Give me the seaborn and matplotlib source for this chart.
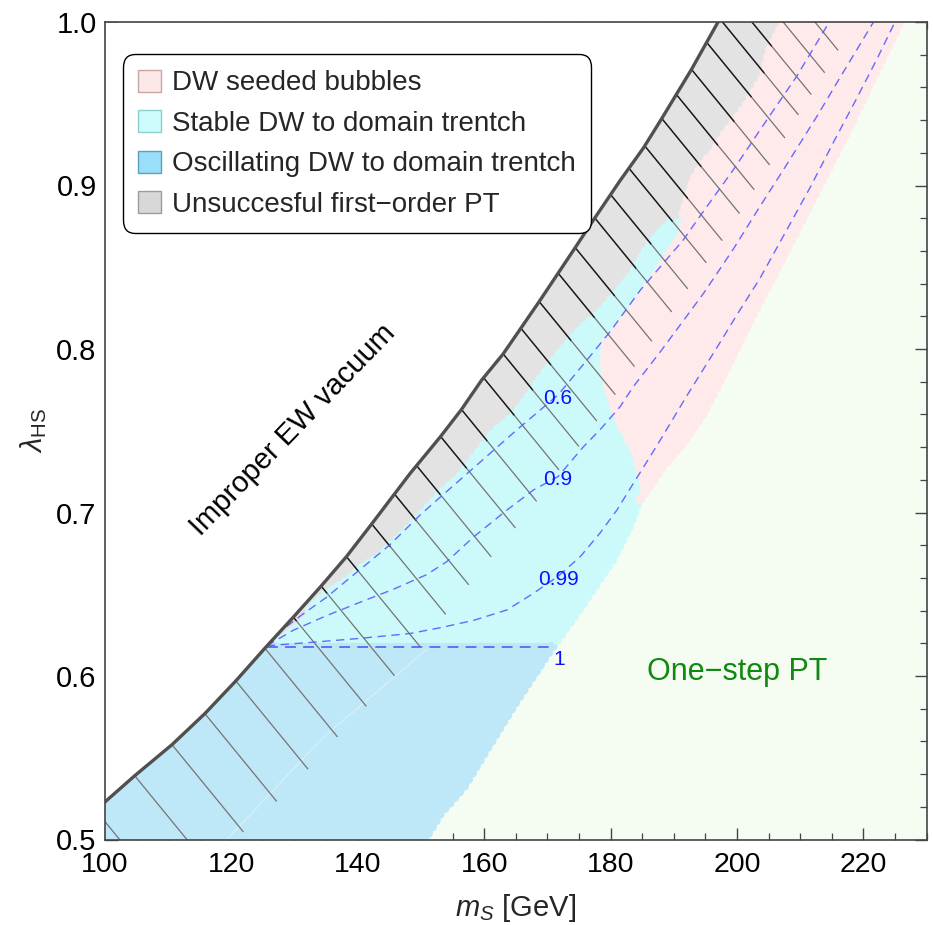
import numpy as np
import matplotlib
matplotlib.use("Agg")
import matplotlib.pyplot as plt
import seaborn as sns
from matplotlib.patches import Patch
from matplotlib.collections import LineCollection
from matplotlib.ticker import MultipleLocator, FormatStrFormatter

# ---------------- data ----------------
# boundary of the "improper EW vacuum" region (m_S, lambda_HS)
ewb_x = [97.0, 100.0, 104.7, 110.6, 115.8, 120.7, 125.3, 129.8, 134.2, 138.2, 142.2,
         148.3, 153.0, 156.4, 159.6, 163.0, 168.7, 174.4, 177.3, 181.5, 185.2, 188.1,
         192.8, 197.0, 200.5, 204.0, 207.0]
ewb_y = [0.513, 0.523, 0.539, 0.558, 0.577, 0.597, 0.617, 0.636, 0.655, 0.673, 0.693,
         0.724, 0.746, 0.763, 0.781, 0.797, 0.829, 0.862, 0.879, 0.903, 0.923, 0.941,
         0.971, 1.000, 1.022, 1.045, 1.065]

# hatch line start points (m_S on the boundary)
hatch_x = [98.5, 104.7, 110.6, 115.8, 120.7, 125.3, 129.8, 134.2, 138.2, 142.2, 145.8,
           149.3, 153.1, 156.4, 159.9, 163.0, 165.8, 168.7, 171.7, 174.4, 177.5, 180.0,
           182.9, 185.4, 188.1, 190.4, 192.8, 195.2, 197.3, 199.3, 201.4, 203.5]

# left edge of the one-step PT region
green_x = [150.5, 153.0, 156.7, 160.6, 165.1, 170.4, 175.4, 180.4, 183.0, 184.3, 186.5, 188.0,
           191.5, 194.7, 198.4, 202.6, 206.8, 210.5, 214.2, 217.9, 221.6, 225.8, 231.0]
green_y = [0.500, 0.516, 0.532, 0.557, 0.585, 0.616, 0.643, 0.672, 0.692, 0.706, 0.718, 0.727,
           0.743, 0.761, 0.789, 0.822, 0.853, 0.881, 0.909, 0.937, 0.967, 1.000, 1.040]

# edge between unsuccessful (grey) and stable DW (cyan)
grey_cyan_x = [125.5, 127.7, 132.4, 135.1, 138.2, 141.0, 143.5, 148.3, 153.0, 156.2, 158.8,
               161.4, 164.6, 166.5, 168.8, 171.5, 175.2, 178.3, 181.0, 183.6, 185.7, 187.8, 189.5]
grey_cyan_y = [0.6185, 0.6251, 0.6404, 0.6506, 0.6577, 0.667, 0.673, 0.691, 0.7107, 0.7219, 0.7352,
               0.7484, 0.7586, 0.768, 0.781, 0.795, 0.8116, 0.8218, 0.834, 0.8463, 0.8606, 0.8708, 0.877]

# edge between unsuccessful (grey) and DW seeded bubbles (pink)
grey_pink_x = [191.5, 193.1, 194.7, 196.3, 197.8, 199.4, 201.0, 202.6, 204.2, 205.2, 206.8, 207.3]
grey_pink_y = [0.883, 0.9034, 0.9136, 0.920, 0.930, 0.938, 0.946, 0.956, 0.9665, 0.983, 0.995, 1.000]

# edge between stable DW (cyan) and DW seeded bubbles (pink)
cyan_pink_x = [184.6, 184.1, 182.5, 180.6, 179.4, 178.2, 177.6, 177.8, 180.4, 183.1, 185.7, 188.3, 190.5]
cyan_pink_y = [0.708, 0.7138, 0.7362, 0.750, 0.7607, 0.775, 0.790, 0.8055, 0.8177, 0.832, 0.8463, 0.8626, 0.8748]

# top of the oscillating-DW region
osc_top = 0.6205

# faint light trace inside the oscillating region
faint_x = [119.3, 134.5, 150.9]
faint_y = [0.500, 0.5624, 0.6162]

# contours
c06_x = [125.6, 127.0, 131.0, 135.0, 140.0, 145.0, 150.0, 155.0, 160.0, 165.0, 171.7, 176.0,
         180.0, 184.7, 191.5, 194.1, 199.4, 204.7, 209.4, 214.6]
c06_y = [0.6185, 0.625, 0.637, 0.648, 0.664, 0.680, 0.699, 0.716, 0.733, 0.750, 0.772, 0.792,
         0.811, 0.836, 0.8667, 0.881, 0.9095, 0.940, 0.9665, 1.0]
c09_x = [125.6, 129.8, 135.1, 140.3, 145.6, 150.9, 154.1, 158.3, 163.6, 167.8, 171.7, 175.7,
         178.3, 181.5, 183.6, 188.0, 194.7, 199.4, 203.6, 207.9, 212.6, 216.3, 221.6]
c09_y = [0.6185, 0.628, 0.637, 0.645, 0.653, 0.662, 0.670, 0.685, 0.7015, 0.7138, 0.722, 0.7402,
         0.7505, 0.7647, 0.777, 0.799, 0.834, 0.861, 0.887, 0.913, 0.942, 0.966, 1.0]
c099_x = [125.6, 132.4, 140.3, 148.3, 153.0, 158.3, 163.6, 167.8, 171.7, 175.2, 178.3, 181.0,
          183.6, 187.5, 192.0, 197.0, 200.0, 203.6, 207.9, 211.6, 215.2, 218.9, 222.1, 225.0]
c099_y = [0.6185, 0.6205, 0.623, 0.626, 0.6295, 0.634, 0.6404, 0.6506, 0.661, 0.673, 0.6873, 0.7015,
          0.7178, 0.742, 0.771, 0.802, 0.821, 0.843, 0.873, 0.899, 0.926, 0.953, 0.977, 1.0]
c1_x = [125.6, 170.7]
c1_y = [0.618, 0.618]

contour_labels = ["0.6", "0.9", "0.99", "1"]
contour_label_x = [171.7, 171.7, 171.7, 171.8]
contour_label_y = [0.770, 0.720, 0.659, 0.610]

legend_labels = ["DW seeded bubbles", "Stable DW to domain trentch",
                 "Oscillating DW to domain trentch", "Unsuccesful first\u2212order PT"]

# ---------------- styling ----------------
GREEN_BG = "#F5FCF2"
PINK = "#FEEAEA"
CYAN = "#CCFAFA"
BLUE = "#BEE7F7"
GREY = "#E3E3E3"

sns.set_theme(style="ticks")
plt.rcParams['font.family'] = ['Liberation Sans', 'DejaVu Sans']
plt.rcParams['mathtext.fontset'] = 'custom'
plt.rcParams['mathtext.rm'] = 'Liberation Sans'
plt.rcParams['mathtext.it'] = 'Liberation Sans:italic'
plt.rcParams['mathtext.bf'] = 'Liberation Sans:bold'

fig = plt.figure(figsize=(9.33, 9.25), dpi=100)
ax = fig.add_axes([105 / 933, 85.5 / 925, 821.6 / 933, 817.5 / 925])
ax.set_xlim(100, 230)
ax.set_ylim(0.5, 1.0)
ax.set_facecolor(GREEN_BG)
fig.canvas.draw()

yy = np.linspace(0.5, 1.0, 1001)
xb = np.interp(yy, ewb_y, ewb_x)
xg = np.interp(yy, green_y, green_x)

# white region (improper EW vacuum)
ax.fill_betweenx(yy, 90, xb, color="white", lw=0, zorder=1)
# stable DW band
m = yy >= osc_top
ax.fill_betweenx(yy[m], xb[m], xg[m], color=CYAN, lw=0, zorder=1)
# oscillating band
m = yy <= osc_top
ax.fill_betweenx(yy[m], xb[m], xg[m], color=BLUE, lw=0, zorder=1)
# pink
pl_x = cyan_pink_x + grey_pink_x
pl_y = cyan_pink_y + grey_pink_y
m = yy >= pl_y[0]
pleft = np.interp(yy[m], pl_y, pl_x)
ax.fill_betweenx(yy[m], pleft, xg[m], where=xg[m] > pleft, color=PINK, lw=0, zorder=1)
# grey
gr_x = grey_cyan_x + grey_pink_x
gr_y = grey_cyan_y + grey_pink_y
m = yy >= gr_y[0]
gright = np.interp(yy[m], gr_y, gr_x)
grey_coll = ax.fill_betweenx(yy[m], xb[m], gright, color=GREY, lw=0, zorder=1)


def resample(xs, ys, step_px):
    """points at equal display spacing along a polyline"""
    pts = ax.transData.transform(np.column_stack([xs, ys]))
    d = np.r_[0, np.cumsum(np.hypot(*np.diff(pts, axis=0).T))]
    s = np.arange(0, d[-1], step_px)
    px = np.interp(s, d, pts[:, 0])
    py = np.interp(s, d, pts[:, 1])
    return ax.transData.inverted().transform(np.column_stack([px, py]))


# scalloped (bubbly) edges of the scan regions
def scallops(xs, ys, colour_fn, zorder=1.5):
    p = resample(xs, ys, 7.5)
    cols = [colour_fn(q[1]) for q in p]
    ax.scatter(p[:, 0], p[:, 1], s=50, c=cols, linewidths=0, zorder=zorder)


pink_start = cyan_pink_y[0]
scallops(green_x, green_y,
         lambda y: BLUE if y < osc_top else (CYAN if y < pink_start else PINK))
scallops(grey_cyan_x[2:], grey_cyan_y[2:], lambda y: CYAN)
scallops(grey_pink_x, grey_pink_y, lambda y: PINK)
scallops(cyan_pink_x[1:], cyan_pink_y[1:], lambda y: CYAN, zorder=1.45)

sns.lineplot(x=faint_x, y=faint_y, sort=False, estimator=None, ax=ax, color="white",
             linewidth=1.2, alpha=0.3, zorder=1.6)

# hatch lines (computed in display space)
segs = []
bx = np.array(ewb_x)
by = np.array(ewb_y)
for x0 in hatch_x:
    y0 = np.interp(x0, bx, by, left=by[0] + (x0 - bx[0]) * (by[1] - by[0]) / (bx[1] - bx[0]))
    L = 112 + 13 * (x0 - 100) / 100.0
    p0 = ax.transData.transform((x0, y0))
    p1 = p0 + L * np.array([0.63, -0.77])
    q1 = ax.transData.inverted().transform(p1)
    segs.append([(x0, y0), (q1[0], q1[1])])
lc_light = LineCollection(segs, colors="#747474", linewidths=0.9, zorder=2)
ax.add_collection(lc_light)
lc_dark = LineCollection(segs, colors="#1a1a1a", linewidths=1.0, zorder=2.1)
ax.add_collection(lc_dark)
lc_dark.set_clip_path(grey_coll.get_paths()[0], ax.transData)

# contours
dash = (0, (6, 4))
for cx, cy in [(c06_x, c06_y), (c09_x, c09_y), (c099_x, c099_y)]:
    sns.lineplot(x=cx, y=cy, sort=False, estimator=None, ax=ax, color="#5a5aff",
                 linewidth=1.0, linestyle=dash, zorder=3, alpha=0.9)
sns.lineplot(x=c1_x, y=c1_y, sort=False, estimator=None, ax=ax, color="#4b5cf0",
             linewidth=1.3, linestyle=dash, zorder=3, alpha=0.9)

for t, lx, ly in zip(contour_labels, contour_label_x, contour_label_y):
    ax.text(lx, ly, t, color="#1010ff", fontsize=15, ha="center", va="center", zorder=4)

# boundary line
sns.lineplot(x=ewb_x, y=ewb_y, sort=False, estimator=None, ax=ax, color="#505050",
             linewidth=2.4, zorder=4)

# region annotations
ax.text(129.7, 0.7505, "Improper EW vacuum", fontsize=21, rotation=46,
        rotation_mode="anchor", ha="center", va="center", color="black", zorder=5)
ax.text(200.0, 0.6024, "One\u2212step PT", fontsize=22, ha="center", va="center",
        color="#118811", zorder=5)

# legend
handles = [Patch(facecolor="#FDE8E8", edgecolor="#C9A5A5", linewidth=1.0),
           Patch(facecolor="#CCFCFC", edgecolor="#8CCFCF", linewidth=1.0),
           Patch(facecolor="#99DFF9", edgecolor="#5C9FC0", linewidth=1.0),
           Patch(facecolor="#D8D8D8", edgecolor="#9C9C9C", linewidth=1.0)]
leg = ax.legend(handles, legend_labels, loc="upper left", bbox_to_anchor=(0.0215, 0.9605),
                borderaxespad=0, fontsize=20, frameon=True, fancybox=True, framealpha=1,
                edgecolor="black", handlelength=0.84, handleheight=0.84,
                handletextpad=0.4, labelspacing=0.5, borderpad=0.55)
leg.get_frame().set_linewidth(1.0)
leg.get_frame().set_boxstyle("round,pad=0,rounding_size=0.45")
leg.set_zorder(10)

# axes styling
for s in ax.spines.values():
    s.set_color("#444444")
    s.set_linewidth(1.2)
    s.set_zorder(6)
ax.xaxis.set_major_locator(MultipleLocator(20))
ax.xaxis.set_minor_locator(MultipleLocator(5))
ax.yaxis.set_major_locator(MultipleLocator(0.1))
ax.yaxis.set_minor_locator(MultipleLocator(0.02))
ax.yaxis.set_major_formatter(FormatStrFormatter("%.1f"))
ax.tick_params(which="both", direction="in", top=True, right=True, color="#444444",
               labelsize=21, labelcolor="black")
ax.tick_params(which="major", length=9, width=1.0)
ax.tick_params(which="minor", length=5, width=0.9)
ax.tick_params(axis="x", pad=9, labelsize=20.5)
ax.tick_params(axis="y", pad=6)

ax.set_xlabel(r"$m_S$ [GeV]", fontsize=21)
ax.set_ylabel(r"$\lambda_{\mathrm{HS}}$", fontsize=21)
ax.xaxis.set_label_coords(0.5, -0.064)
ax.yaxis.set_label_coords(-0.068, 0.5)

fig.savefig("out.png", dpi=100)
